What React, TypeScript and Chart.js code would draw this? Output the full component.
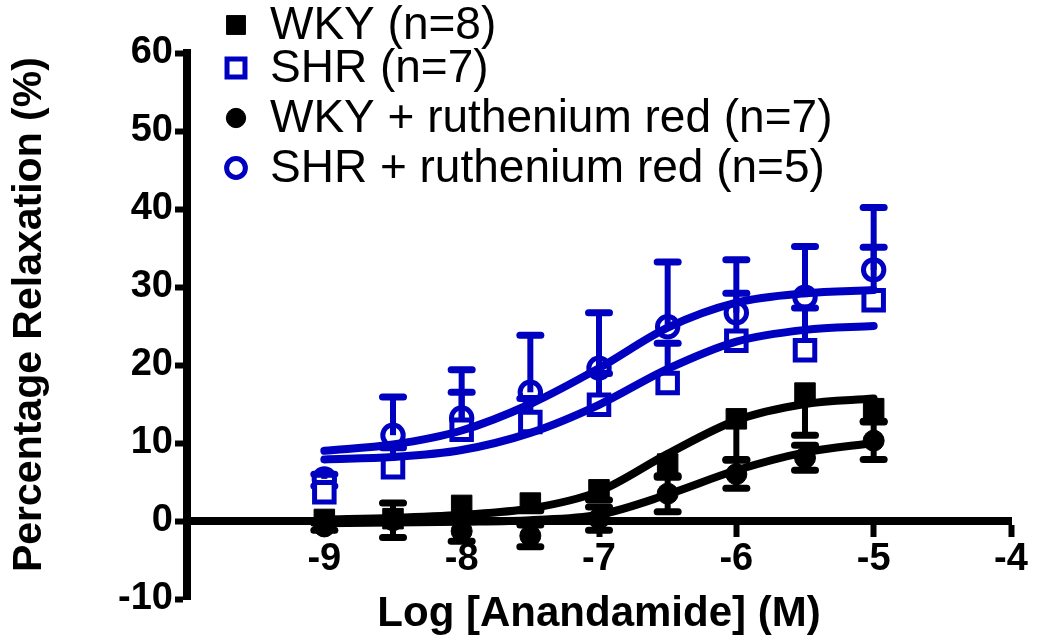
import React, { useEffect, useRef } from 'react';
import { Chart, registerables } from 'chart.js';

Chart.register(...registerables);

// ---- data ----
const DOSES = [-9, -8.5, -8, -7.5, -7, -6.5, -6, -5.5, -5];

const WKY = [0.2, 0.3, 2.0, 2.3, 4.0, 7.3, 13.1, 16.4, 14.4];
const WKY_SEM = [0.5, 0.5, 1.5, 1.0, 1.3, 1.7, 5.2, 5.4, 1.6];
const SHR = [3.7, 6.9, 11.7, 12.7, 14.9, 17.7, 23.1, 21.9, 28.3];
const SHR_SEM = [0.8, 2.5, 4.8, 3.0, 4.0, 5.1, 6.1, 5.4, 6.8];
const WKY_RR = [-0.7, 0.1, -1.3, -1.9, 0.3, 3.5, 6.0, 8.1, 10.3];
const WKY_RR_SEM = [0.5, 2.2, 1.3, 1.4, 1.5, 2.3, 1.8, 1.6, 2.4];
const SHR_RR = [5.4, 11.0, 13.2, 16.5, 19.6, 24.9, 26.7, 28.7, 32.2];
const SHR_RR_SEM = [0.6, 4.9, 6.2, 7.3, 7.1, 8.3, 6.8, 6.5, 8.0];

// fitted curves, read at the dose positions
const FIT_X = [-9, -8.5, -8, -7.5, -7, -6.5, -6, -5.5, -5];
const WKY_FIT = [0.2, 0.4, 0.8, 1.6, 3.8, 8.6, 12.9, 15.0, 15.7];
const SHR_FIT = [7.9, 8.2, 9.1, 11.3, 14.9, 19.5, 23.0, 24.5, 25.0];
const WKY_RR_FIT = [-0.3, -0.2, -0.1, 0.1, 0.8, 3.4, 6.5, 8.8, 10.0];
const SHR_RR_FIT = [9.0, 9.8, 11.6, 15.0, 19.6, 24.8, 28.0, 29.2, 29.6];

const LABELS = [
  'WKY (n=8)',
  'SHR (n=7)',
  'WKY + ruthenium red (n=7)',
  'SHR + ruthenium red (n=5)',
];

const X_TICKS = [-10, -9, -8, -7, -6, -5, -4];
const Y_TICKS = [-10, 0, 10, 20, 30, 40, 50, 60];

const BLUE = '#0000C0';
const BLACK = '#000000';
const FONT = "'Liberation Sans', Arial, Helvetica, sans-serif";

const pts = (xs: number[], ys: number[]) => xs.map((x, i) => ({ x, y: ys[i] }));

type Marker = { style: string; r: number; fill: string; stroke: string; bw: number };

const MARKERS: Marker[] = [
  { style: 'rect', r: 14.5, fill: BLACK, stroke: BLACK, bw: 1 },
  { style: 'rect', r: 13.8, fill: '#ffffff', stroke: BLUE, bw: 5 },
  { style: 'circle', r: 10.5, fill: BLACK, stroke: BLACK, bw: 1 },
  { style: 'circle', r: 10.2, fill: 'rgba(0,0,0,0)', stroke: BLUE, bw: 5 },
];

const LEGEND_ROWS_Y = [25, 68, 118, 168];

function drawMarker(ctx: CanvasRenderingContext2D, m: Marker, x: number, y: number, scale = 1) {
  const r = m.r * scale;
  ctx.save();
  ctx.fillStyle = m.fill;
  ctx.strokeStyle = m.stroke;
  ctx.lineWidth = m.bw;
  ctx.beginPath();
  if (m.style === 'rect') {
    const s = Math.SQRT1_2 * r;
    ctx.rect(x - s, y - s, 2 * s, 2 * s);
  } else {
    ctx.arc(x, y, r, 0, Math.PI * 2);
  }
  ctx.fill();
  ctx.stroke();
  ctx.restore();
}

const errorBarPlugin = {
  id: 'errorBars',
  beforeDatasetsDraw(chart: any) {
    const ctx: CanvasRenderingContext2D = chart.ctx;
    const xs = chart.scales.x;
    const ys = chart.scales.y;
    chart.data.datasets.forEach((ds: any, i: number) => {
      if (!ds.errors || !chart.isDatasetVisible(i)) return;
      ctx.save();
      ctx.strokeStyle = ds.borderColor;
      ds.data.forEach((p: any, j: number) => {
        const x = xs.getPixelForValue(p.x);
        const y0 = ys.getPixelForValue(p.y);
        const ends: number[] = [];
        if (ds.errDir !== 'down') ends.push(p.y + ds.errors[j]);
        if (ds.errDir !== 'up') ends.push(p.y - ds.errors[j]);
        ends.forEach((v) => {
          const y1 = ys.getPixelForValue(v);
          ctx.lineWidth = 6;
          ctx.lineCap = 'butt';
          ctx.beginPath();
          ctx.moveTo(x, y0);
          ctx.lineTo(x, y1);
          ctx.stroke();
          ctx.lineWidth = 7;
          ctx.lineCap = 'round';
          ctx.beginPath();
          ctx.moveTo(x - 10.5, y1);
          ctx.lineTo(x + 10.5, y1);
          ctx.stroke();
        });
      });
      ctx.restore();
    });
  },
};

const legendPlugin = {
  id: 'customLegend',
  afterDraw(chart: any) {
    const ctx: CanvasRenderingContext2D = chart.ctx;
    ctx.save();
    ctx.font = `46px ${FONT}`;
    ctx.textBaseline = 'middle';
    ctx.textAlign = 'left';
    ctx.fillStyle = BLACK;
    LABELS.forEach((label, i) => {
      const y = LEGEND_ROWS_Y[i];
      drawMarker(ctx, MARKERS[i], 236, y, 0.92);
      ctx.fillText(label, 270, y + 1);
    });
    ctx.restore();
  },
};

export default function App() {
  const ref = useRef<HTMLCanvasElement | null>(null);

  useEffect(() => {
    if (!ref.current) return;
    const series = [
      { data: WKY, err: WKY_SEM, dir: 'down', color: BLACK },
      { data: SHR, err: SHR_SEM, dir: 'up', color: BLUE },
      { data: WKY_RR, err: WKY_RR_SEM, dir: 'both', color: BLACK },
      { data: SHR_RR, err: SHR_RR_SEM, dir: 'up', color: BLUE },
    ];
    const fits = [WKY_FIT, SHR_FIT, WKY_RR_FIT, SHR_RR_FIT];

    const pointSets = series.map((s, i) => ({
      type: 'line',
      label: LABELS[i],
      data: pts(DOSES, s.data),
      showLine: false,
      borderColor: s.color,
      backgroundColor: s.color,
      pointStyle: MARKERS[i].style,
      pointRadius: MARKERS[i].r,
      pointBorderWidth: MARKERS[i].bw,
      pointBackgroundColor: MARKERS[i].fill,
      pointBorderColor: MARKERS[i].stroke,
      errors: s.err,
      errDir: s.dir,
      order: 1,
    }));

    const curveSets = fits.map((f, i) => ({
      type: 'line',
      label: LABELS[i] + ' fit',
      data: pts(FIT_X, f),
      borderColor: series[i].color,
      borderWidth: 8,
      pointRadius: 0,
      fill: false,
      cubicInterpolationMode: 'monotone',
      borderCapStyle: 'round',
      order: 0,
    }));

    const chart = new Chart(ref.current, {
      type: 'line',
      data: { datasets: [...pointSets, ...curveSets] as any },
      options: {
        responsive: false,
        animation: false,
        events: [],
        layout: { padding: { left: 0, top: 53, right: 27, bottom: 41 } },
        plugins: {
          legend: { display: false },
          tooltip: { enabled: false },
        },
        scales: {
          x: {
            type: 'linear',
            min: -10,
            max: -4,
            position: { y: 0 } as any,
            afterBuildTicks: (s: any) => {
              s.ticks = X_TICKS.map((v) => ({ value: v }));
            },
            grid: {
              drawOnChartArea: false,
              drawTicks: true,
              tickLength: 12,
              tickWidth: 6,
              tickColor: (c: any) => (c.tick && c.tick.value === -10 ? 'rgba(0,0,0,0)' : BLACK),
            },
            border: { display: true, color: BLACK, width: 8 },
            ticks: {
              color: BLACK,
              padding: 4,
              autoSkip: false,
              maxRotation: 0,
              font: { family: FONT, weight: 'bold', size: 38 },
              callback: (v: any) => (v === -10 ? '' : String(v)),
            },
            title: {
              display: true,
              text: 'Log [Anandamide] (M)',
              color: BLACK,
              font: { family: FONT, weight: 'bold', size: 42 },
              padding: { top: 3, bottom: 0 },
            },
          },
          y: {
            type: 'linear',
            min: -10,
            max: 60,
            position: 'left',
            afterBuildTicks: (s: any) => {
              s.ticks = Y_TICKS.map((v) => ({ value: v }));
            },
            afterFit: (s: any) => {
              s.width = 187;
            },
            grid: {
              drawOnChartArea: false,
              drawTicks: true,
              tickLength: 12,
              tickWidth: 6,
              tickColor: BLACK,
            },
            border: { display: true, color: BLACK, width: 8 },
            ticks: {
              color: BLACK,
              padding: 2,
              font: { family: FONT, weight: 'bold', size: 38 },
              callback: (v: any) => String(v),
            },
            title: {
              display: true,
              text: '\u00A0\u00A0Percentage Relaxation (%)',
              color: BLACK,
              font: { family: FONT, weight: 'bold', size: 41 },
              padding: { top: 5, bottom: 0 },
            },
          },
        },
      } as any,
      plugins: [errorBarPlugin, legendPlugin],
    });
    return () => chart.destroy();
  }, []);

  return (
    <div style={{ position: 'fixed', left: 0, top: 0, width: 1038, height: 640, background: '#fff' }}>
      <canvas ref={ref} width={1038} height={640} />
    </div>
  );
}
